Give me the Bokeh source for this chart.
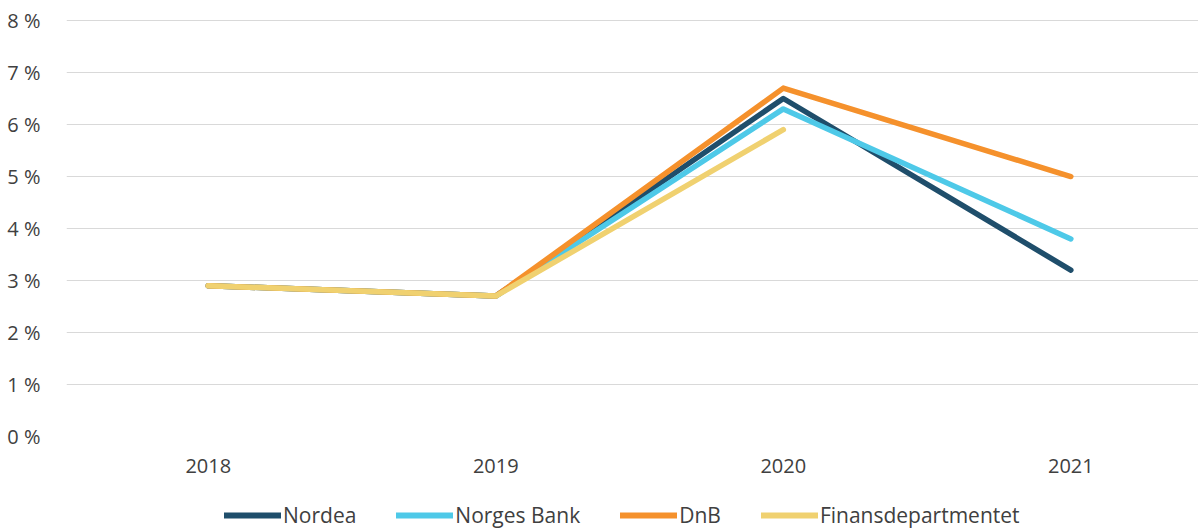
from bokeh.plotting import figure
from bokeh.models import Range1d, FixedTicker, Legend, LegendItem
from bokeh.layouts import column
from bokeh.embed import file_html
from bokeh.resources import INLINE

years = ["2018", "2019", "2020", "2021"]
nordea = [2.9, 2.7, 6.5, 3.2]
norges_bank = [2.9, 2.7, 6.3, 3.8]
dnb = [2.9, 2.7, 6.7, 5.0]
finansdep = [2.9, 2.7, 5.9]
y_ticks = [0, 1, 2, 3, 4, 5, 6, 7, 8]

FONT = "Open Sans"
TXT = "#404040"

p = figure(width=1198, height=481, output_backend="svg", toolbar_location=None,
           x_range=Range1d(-0.493, 3.444), y_range=Range1d(0, 8.154),
           min_border_left=66, min_border_right=0, min_border_top=12, min_border_bottom=45)
p.outline_line_color = None
p.xgrid.grid_line_color = None
p.ygrid.grid_line_color = "#d9d9d9"
p.ygrid.grid_line_width = 1

xs = list(range(len(years)))
series = [
    ("Nordea", nordea, "#1f4e6b"),
    ("Norges Bank", norges_bank, "#4ec9e8"),
    ("DnB", dnb, "#f5912c"),
    ("Finansdepartmentet", finansdep, "#f0d170"),
]

p2 = figure(width=1198, height=48, output_backend="svg", toolbar_location=None,
            x_axis_type=None, y_axis_type=None, min_border=0,
            x_range=Range1d(100, 101), y_range=Range1d(100, 101))
p2.outline_line_color = None
p2.grid.grid_line_color = None

items = []
for name, vals, col in series:
    p.line(xs[:len(vals)], vals, line_color=col, line_width=5.5,
           line_join="round", line_cap="round")
    # off-screen copy of the series, used only for the legend swatch
    r2 = p2.line(xs[:len(vals)], vals, line_color=col, line_width=6, line_cap="round")
    items.append(LegendItem(label=name, renderers=[r2]))

p.xaxis.ticker = FixedTicker(ticks=xs)
p.xaxis.major_label_overrides = {i: y for i, y in enumerate(years)}
p.yaxis.ticker = FixedTicker(ticks=y_ticks)
p.yaxis.major_label_overrides = {t: f"{t} %" for t in y_ticks}
for ax in (p.xaxis[0], p.yaxis[0]):
    ax.axis_line_color = None
    ax.major_tick_line_color = None
    ax.minor_tick_line_color = None
    ax.major_label_text_font = FONT
    ax.major_label_text_font_size = "20px"
    ax.major_label_text_color = TXT
p.xaxis.major_label_standoff = 16
p.yaxis.major_label_standoff = 20

legend = Legend(items=items, orientation="horizontal", location=(158, 0),
                glyph_width=57, glyph_height=20, label_standoff=2, spacing=40,
                padding=0, margin=0, border_line_color=None,
                background_fill_alpha=0,
                label_text_font=FONT, label_text_font_size="21px",
                label_text_color=TXT, label_height=20)
p2.add_layout(legend, "center")

layout = column(p, p2, spacing=0)
open("out.html", "w").write(file_html(layout, INLINE))
